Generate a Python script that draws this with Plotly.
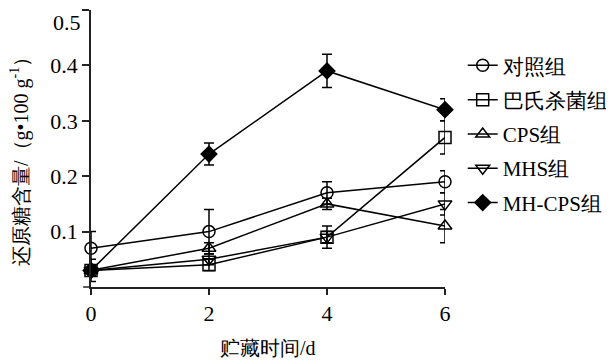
import plotly.graph_objects as go

days = [0, 2, 4, 6]
series_names = ["对照组", "巴氏杀菌组", "CPS组", "MHS组", "MH-CPS组"]
control = [0.07, 0.10, 0.17, 0.19]
control_err = [0.03, 0.04, 0.02, 0.02]
pasteur = [0.03, 0.04, 0.09, 0.27]
pasteur_err = [0.02, 0.01, 0.02, 0.03]
cps = [0.03, 0.07, 0.15, 0.11]
cps_err = [0.01, 0.01, 0.01, 0.03]
mhs = [0.03, 0.05, 0.09, 0.15]
mhs_err = [0.01, 0.01, 0.01, 0.02]
mhcps = [0.03, 0.24, 0.39, 0.32]
mhcps_err = [0.01, 0.02, 0.03, 0.02]

y_ticks = [0.1, 0.2, 0.3, 0.4, 0.5]
x_ticks = [0, 2, 4, 6]

FONT = "Liberation Serif"

data = [control, pasteur, cps, mhs, mhcps]
errs = [control_err, pasteur_err, cps_err, mhs_err, mhcps_err]
symbols = ["circle-open", "square-open", "triangle-up-open", "triangle-down-open", "diamond"]

fig = go.Figure()
for i, (name, ys, es, sym) in enumerate(zip(series_names, data, errs, symbols)):
    fig.add_trace(go.Scatter(
        x=days, y=ys, name=name, mode="lines+markers",
        line=dict(color="black", width=1.5),
        marker=dict(symbol=sym, size=12, color="black",
                    line=dict(color="black", width=1.5)),
        error_y=dict(type="data", array=es, visible=True, color="black",
                     thickness=1.5, width=5),
        cliponaxis=False, legendgroup=f"g{i}",
    ))

# top tick label would be clipped by the page edge; draw it as an annotation just inside
top_label = f"{y_ticks[-1]:.1f}"
tick_text = [f"{v:.1f}" for v in y_ticks[:-1]] + [""]

# page body adds an 8px offset; size figure to fit the 614x361 window
fig.update_layout(
    width=606, height=353,
    margin=dict(l=83, r=169, t=2, b=74, autoexpand=False),
    paper_bgcolor="white", plot_bgcolor="white",
    font=dict(family=FONT, size=21, color="black"),
    showlegend=True,
    legend=dict(x=1.05, y=0.873, xanchor="left", yanchor="top",
                font=dict(family=FONT, size=21, color="black"),
                bgcolor="rgba(0,0,0,0)", tracegroupgap=4,
                itemwidth=30),
    xaxis=dict(range=[0, 6], tickvals=x_ticks, ticktext=[str(v) for v in x_ticks],
               showline=True, linecolor="#222", linewidth=1.5,
               ticks="outside", ticklen=6, tickwidth=1.5, tickcolor="#222",
               showgrid=False, zeroline=False, automargin=False,
               tickfont=dict(family=FONT, size=22)),
    yaxis=dict(range=[0, 0.5], tickvals=y_ticks, ticktext=tick_text,
               showline=True, linecolor="#222", linewidth=1.5,
               ticks="outside", ticklen=7, tickwidth=1.5, tickcolor="#222",
               showgrid=False, zeroline=False, ticklabeloverflow="allow",
               automargin=False,
               tickfont=dict(family=FONT, size=22)),
    annotations=[
        dict(text=top_label, x=0, y=1, xref="paper", yref="paper",
             xanchor="right", yanchor="top", xshift=-8, yshift=2,
             showarrow=False, font=dict(family=FONT, size=22)),
        dict(text="贮藏时间/d", x=0.5, y=-0.22, xref="paper", yref="paper",
             xanchor="center", yanchor="middle", showarrow=False,
             font=dict(family=FONT, size=20)),
        dict(text="还原糖含量/（g•100 g<sup>-1</sup>）", x=-0.2, y=0.47,
             xref="paper", yref="paper", textangle=-90,
             xanchor="center", yanchor="middle", showarrow=False,
             font=dict(family=FONT, size=20)),
    ],
    shapes=[
        dict(type="line", xref="paper", yref="paper", x0=-0.022, x1=0, y0=0, y1=0,
             line=dict(color="#222", width=1.5)),
    ],
)

fig.write_html("out.html")
